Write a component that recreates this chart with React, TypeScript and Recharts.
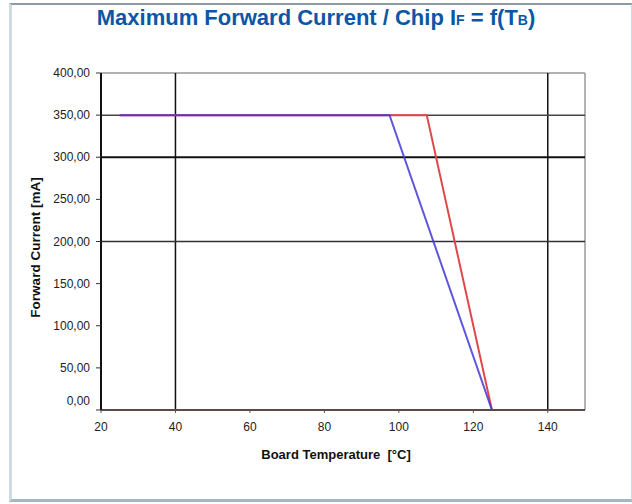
import { LineChart, Line, XAxis, YAxis, ReferenceLine, Label } from 'recharts';

// board temperature (°C) / forward current (mA)
const redTemps = [25, 107.5, 125, 150];
const redCurrent = [350, 350, 0, 0];
const blueTemps = [25, 97.5, 125, 150];
const blueCurrent = [350, 350, 0, 0];

const xTicks = [20, 40, 60, 80, 100, 120, 140];
const yTicks = [0, 50, 100, 150, 200, 250, 300, 350, 400];

const redData = redTemps.map((t, i) => ({ t, i: redCurrent[i] }));
const blueData = blueTemps.map((t, i) => ({ t, i: blueCurrent[i] }));

const font = '"Liberation Sans", Arial, sans-serif';

const YTick = (props: any) => {
  const { x, y, payload } = props;
  const shift = payload.value === 0 ? -9 : 0;
  return (
    <text x={x - 4} y={y + shift} dy={4} textAnchor="end" fill="#222" fontSize={12} fontFamily={font}>
      {payload.value.toFixed(2).replace('.', ',')}
    </text>
  );
};

const XTick = (props: any) => {
  const { x, y, payload } = props;
  return (
    <text x={x} y={y} dy={16} textAnchor="middle" fill="#222" fontSize={12} fontFamily={font}>
      {payload.value}
    </text>
  );
};

export default function App() {
  return (
    <div style={{ position: 'absolute', left: 0, top: 0, width: 632, height: 504, background: '#fff' }}>
      <div
        style={{
          position: 'absolute',
          left: 9,
          top: 3,
          width: 619,
          height: 494,
          borderTop: '2px solid #8d9ba5',
          borderLeft: '3px solid #cfdae3',
          borderRight: '2px solid #cfdae3',
          borderBottom: '3px solid #a5b7c6',
        }}
      />
      <div
        style={{
          position: 'absolute',
          left: 0,
          top: 5,
          width: 632,
          textAlign: 'center',
          fontFamily: font,
          fontWeight: 'bold',
          fontSize: 22,
          color: '#0b57a6',
        }}
      >
        Maximum Forward Current / Chip I<span style={{ fontSize: 14 }}>F</span> = f(T
        <span style={{ fontSize: 14 }}>B</span>)
      </div>
      <LineChart
        width={632}
        height={504}
        style={{ position: 'absolute', left: 0, top: 0 }}
        margin={{ top: 73, right: 47, bottom: 64, left: 41 }}
      >
        <XAxis
          dataKey="t"
          type="number"
          domain={[20, 150]}
          ticks={xTicks}
          allowDataOverflow
          axisLine={{ stroke: '#5a4a4a', strokeWidth: 2 }}
          tickLine={{ stroke: '#555' }}
          tickSize={3}
          tick={<XTick />}
          height={30}
        >
          <Label
            value={'Board Temperature\u00a0\u00a0[°C]'}
            position="insideBottom"
            offset={-19}
            dx={-7}
            style={{ fill: '#111', fontSize: 13, fontWeight: 'bold', fontFamily: font }}
          />
        </XAxis>
        <YAxis
          type="number"
          domain={[0, 400]}
          ticks={yTicks}
          allowDataOverflow
          width={60}
          axisLine={{ stroke: '#111', strokeWidth: 2 }}
          tickLine={{ stroke: '#333' }}
          tickSize={5}
          tick={<YTick />}
        >
          <Label
            value="Forward Current [mA]"
            angle={-90}
            position="insideLeft"
            offset={-6}
            dy={6}
            style={{ fill: '#111', fontSize: 13.5, fontWeight: 'bold', fontFamily: font, textAnchor: 'middle' }}
          />
        </YAxis>
        <ReferenceLine y={400} stroke="#999" strokeWidth={1.5} />
        <ReferenceLine x={150} stroke="#999" strokeWidth={1.5} />
        <ReferenceLine x={40} stroke="#111" strokeWidth={1.5} />
        <ReferenceLine x={140} stroke="#111" strokeWidth={1.5} />
        <ReferenceLine y={350} stroke="#444" strokeWidth={1.5} />
        <ReferenceLine y={300} stroke="#111" strokeWidth={2} />
        <ReferenceLine y={200} stroke="#333" strokeWidth={1.5} />
        <Line
          data={redData}
          dataKey="i"
          type="linear"
          stroke="#e0474b"
          strokeWidth={2}
          dot={false}
          isAnimationActive={false}
        />
        <Line
          data={blueData}
          dataKey="i"
          type="linear"
          stroke="#4338d6"
          strokeOpacity={0.85}
          strokeWidth={2}
          dot={false}
          isAnimationActive={false}
        />
      </LineChart>
    </div>
  );
}
